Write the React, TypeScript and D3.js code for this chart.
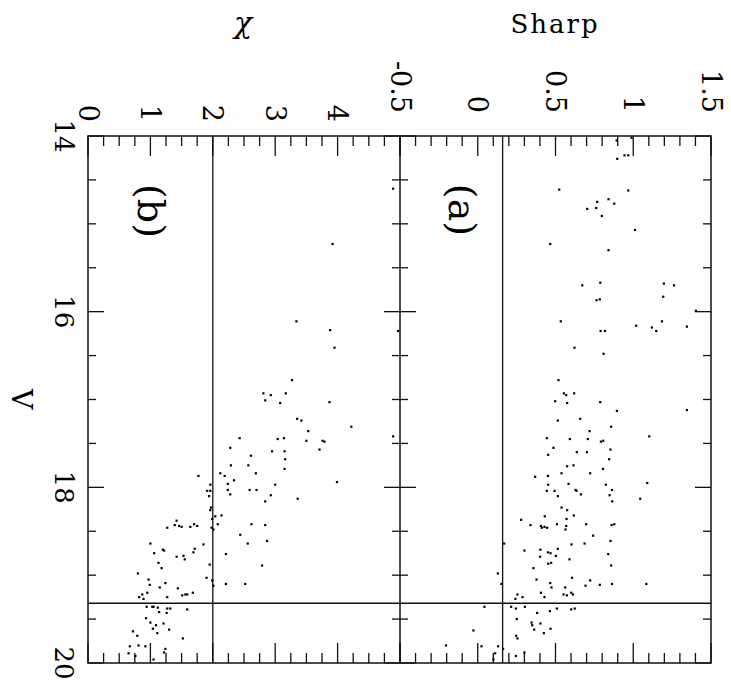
import React from "react";
import * as d3 from "d3";

// Panel (a): V magnitude and Sharp values
const vA = [14.05,14.02,14.22,14.22,14.26,14.61,14.62,14.75,14.72,14.77,14.83,14.82,14.91,15.07,15.23,15.30,15.70,15.67,15.68,15.70,15.83,15.87,15.86,15.99,16.11,16.16,16.18,16.22,16.11,16.17,16.22,16.22,16.41,16.48,16.78,16.93,16.95,16.93,
17.02,17.04,17.03,17.13,17.12,17.24,17.22,17.31,17.36,17.44,17.45,17.45,17.48,17.47,17.42,17.55,17.60,17.60,17.57,17.63,17.68,17.76,17.75,17.79,17.84,17.84,17.88,17.87,17.95,17.97,17.96,17.97,18.04,18.04,18.03,18.04,18.03,18.10,18.08,18.09,18.16,18.13,18.23,18.26,18.32,18.33,18.36,18.37,18.43,18.44,18.46,18.45,18.46,18.42,18.44,18.48,18.42,18.43,18.42,18.55,18.64,18.65,18.64,18.61,18.72,18.71,18.74,18.75,18.70,18.78,18.79,18.76,18.82,18.87,18.86,18.89,18.92,18.98,19.05,19.03,19.10,19.09,19.14,19.06,19.12,19.11,19.10,19.10,19.14,19.22,19.20,19.22,19.23,19.20,19.22,19.27,19.25,19.25,19.36,19.36,19.38,19.36,19.38,19.39,19.38,19.43,19.41,19.50,19.54,19.57,19.55,19.62,19.66,19.61,19.63,19.69,19.72,19.80,19.81,19.81,19.84,19.89,19.96,19.92,19.88];
const sharpVals = [0.893,0.989,0.944,0.968,0.897,0.524,0.968,0.768,0.841,0.878,0.704,0.762,0.798,1.011,0.466,0.841,0.672,0.788,1.197,1.262,1.193,0.764,0.785,1.403,0.534,1.019,1.120,1.148,1.185,1.345,0.790,0.818,0.622,0.809,0.519,0.554,0.569,0.620,
0.498,0.575,0.788,0.895,1.345,0.515,0.659,0.858,0.719,0.444,0.592,0.708,0.792,0.807,1.103,0.487,0.637,0.702,0.854,0.453,0.845,0.575,0.616,0.805,0.539,0.723,0.369,0.451,1.090,0.453,0.584,0.824,0.444,0.494,0.629,0.635,0.863,0.515,0.663,0.848,0.865,1.045,0.539,0.575,0.618,0.431,0.571,0.279,0.339,0.406,0.412,0.429,0.446,0.509,0.569,0.564,0.697,0.861,0.878,0.742,0.170,0.603,0.687,0.854,0.300,0.403,0.451,0.468,0.515,0.502,0.401,0.839,0.590,0.453,0.472,0.858,0.358,0.129,0.378,0.607,0.152,0.466,0.474,0.723,0.693,0.785,0.863,1.084,0.562,0.255,0.406,0.552,0.573,0.601,0.612,0.242,0.288,0.429,0.043,0.215,0.245,0.303,0.509,0.601,0.624,0.382,0.464,0.251,0.346,0.350,0.403,0.363,0.425,0.468,-0.028,0.247,0.255,-0.204,0.024,0.131,0.163,0.112,0.101,0.245,0.300];

// Panel (b): V magnitude and chi values
const vB = [14.60,15.23,16.11,16.21,16.41,16.22,16.78,16.93,16.95,16.93,
17.01,17.04,17.03,17.22,17.24,17.36,17.31,17.42,17.44,17.45,17.44,17.47,17.47,17.48,17.55,17.59,17.59,17.57,17.64,17.68,17.75,17.75,17.79,17.84,17.87,17.84,17.87,17.92,17.94,17.97,17.97,17.96,18.04,18.04,18.03,18.03,18.03,18.08,18.09,18.10,18.13,18.16,18.23,18.26,18.32,18.33,18.36,18.38,18.43,18.44,18.45,18.46,18.42,18.44,18.45,18.42,18.46,18.48,18.42,18.43,18.54,18.64,18.64,18.61,18.65,18.71,18.72,18.70,18.75,18.74,18.79,18.78,18.82,18.76,18.86,18.92,18.88,18.89,18.98,19.05,19.03,19.06,19.09,19.11,19.12,19.10,19.10,19.14,19.15,19.20,19.22,19.20,19.23,19.22,19.22,19.25,19.27,19.25,19.36,19.36,19.36,19.37,19.38,19.38,19.42,19.43,19.39,19.49,19.54,19.57,19.61,19.55,19.62,19.64,19.66,19.69,19.72,19.81,19.80,19.81,19.84,19.89,19.92,19.88,19.96];
const chiVals = [4.89,3.92,3.34,3.88,3.95,4.97,3.27,2.81,2.93,3.17,
2.84,3.08,3.87,3.35,3.42,3.53,4.22,4.89,2.43,3.04,3.14,3.50,3.76,3.79,2.28,2.95,3.15,3.71,2.61,3.16,2.29,2.57,3.15,2.12,2.19,2.69,1.77,2.34,3.99,3.00,1.96,2.24,1.91,1.96,2.24,2.59,2.70,2.28,2.93,1.94,3.36,2.84,1.97,1.96,2.14,2.04,1.99,1.42,1.39,1.46,1.50,1.27,1.70,1.75,1.64,2.08,1.98,2.01,2.62,2.84,2.44,1.00,2.56,2.87,1.85,1.20,1.22,1.71,1.06,1.69,1.42,1.53,1.55,2.21,1.13,1.18,1.95,2.79,0.80,0.97,1.90,1.99,1.24,0.99,2.01,2.21,2.52,1.15,1.44,0.95,0.87,1.68,1.51,1.56,1.59,0.82,0.89,1.27,0.94,1.03,1.05,1.12,1.27,1.32,1.14,1.26,1.59,0.93,1.00,1.09,1.04,1.21,1.30,0.72,1.11,0.79,1.52,0.67,0.81,0.92,1.24,0.65,0.76,1.22,1.05];

const vTicks = [14, 16, 18, 20];
const chiTickLabels = [0, 1, 2, 3, 4];
const sharpTickLabels = [-0.5, 0, 0.5, 1, 1.5];
const chiCut = 2;
const sharpCut = 0.16;
const vCut = 19.32;

const FONT = "'DejaVu Serif', serif";

export default function App() {
  const y = d3.scaleLinear().domain([14, 20]).range([136, 663]);
  const xB = d3.scaleLinear().domain([0, 5]).range([88, 400]);
  const xA = d3.scaleLinear().domain([-0.5, 1.5]).range([400, 711]);
  const stroke = "#111";
  const sw = 1.3;

  const vMinor = d3.range(14, 20.001, 0.5);
  const chiMinor = d3.range(0, 5.001, 0.25);
  const sharpMinor = d3.range(-5, 15.001, 1).map((d) => d / 10);

  const isMajor = (v: number, step: number) => Math.abs(v / step - Math.round(v / step)) < 1e-6;

  const panelTicks = (x0: number, x1: number, xs: number[], sx: (v: number) => number, majStep: number, key: string) => {
    const els: React.ReactNode[] = [];
    xs.forEach((v, i) => {
      const px = sx(v);
      const len = isMajor(v, majStep) ? 20 : 10;
      els.push(<line key={key + "t" + i} x1={px} x2={px} y1={136} y2={136 + len} stroke={stroke} strokeWidth={sw} />);
      els.push(<line key={key + "b" + i} x1={px} x2={px} y1={663} y2={663 - len} stroke={stroke} strokeWidth={sw} />);
    });
    vMinor.forEach((v, i) => {
      const py = y(v);
      const len = isMajor(v, 2) ? 16 : 8;
      els.push(<line key={key + "l" + i} x1={x0} x2={x0 + len} y1={py} y2={py} stroke={stroke} strokeWidth={sw} />);
      els.push(<line key={key + "r" + i} x1={x1} x2={x1 - len} y1={py} y2={py} stroke={stroke} strokeWidth={sw} />);
    });
    return els;
  };

  return (
    <svg width={731} height={692} style={{ display: "block", position: "absolute", left: 0, top: 0, background: "#fff" }}>
      <rect x={0} y={0} width={731} height={692} fill="#fff" />
      {panelTicks(88, 400, chiMinor, xB, 1, "b")}
      {panelTicks(400, 711, sharpMinor, xA, 0.5, "a")}
      {/* cut lines */}
      <line x1={xB(chiCut)} x2={xB(chiCut)} y1={136} y2={663} stroke={stroke} strokeWidth={sw} />
      <line x1={xA(sharpCut)} x2={xA(sharpCut)} y1={136} y2={663} stroke={stroke} strokeWidth={sw} />
      <line x1={88} x2={711} y1={y(vCut)} y2={y(vCut)} stroke={stroke} strokeWidth={sw} />
      {/* frames */}
      <rect x={88} y={136} width={711 - 88} height={663 - 136} fill="none" stroke={stroke} strokeWidth={1.5} />
      <line x1={400} x2={400} y1={136} y2={663} stroke={stroke} strokeWidth={1.5} />
      {/* points */}
      {vB.map((v, i) => (
        <rect key={"pb" + i} x={xB(chiVals[i]) - 1.1} y={y(v) - 1.1} width={2.2} height={2.2} fill="#000" />
      ))}
      {vA.map((v, i) => (
        <rect key={"pa" + i} x={xA(sharpVals[i]) - 1.1} y={y(v) - 1.1} width={2.2} height={2.2} fill="#000" />
      ))}
      {/* V tick labels */}
      {vTicks.map((v) => (
        <text key={"vl" + v} transform={`translate(64,${y(v)}) rotate(90)`} textAnchor="middle" dominantBaseline="central" fontFamily={FONT} fontSize={26} fill="#000">{v}</text>
      ))}
      {chiTickLabels.map((v) => (
        <text key={"cl" + v} transform={`translate(${xB(v)},122) rotate(90)`} textAnchor="end" dominantBaseline="central" fontFamily={FONT} fontSize={27} fill="#000">{String(v)}</text>
      ))}
      {sharpTickLabels.map((v) => (
        <text key={"sl" + v} transform={`translate(${xA(v)},113) rotate(90)`} textAnchor="end" dominantBaseline="central" fontFamily={FONT} fontSize={27} fill="#000">{String(v)}</text>
      ))}
      <text transform={`translate(21,399) rotate(90)`} textAnchor="middle" dominantBaseline="central" fontFamily={FONT} fontSize={28} fill="#000">V</text>
      <text x={555} y={33} textAnchor="middle" fontFamily={FONT} fontSize={26} letterSpacing={2} fill="#000">Sharp</text>
      <text x={243} y={33} textAnchor="middle" fontFamily={FONT} fontStyle="italic" fontSize={30} fill="#000">χ</text>
      <text transform={`translate(462,210) rotate(90)`} textAnchor="middle" dominantBaseline="central" fontFamily={FONT} fontSize={38} fill="#000">(a)</text>
      <text transform={`translate(151,211) rotate(90)`} textAnchor="middle" dominantBaseline="central" fontFamily={FONT} fontSize={38} fill="#000">(b)</text>
    </svg>
  );
}
